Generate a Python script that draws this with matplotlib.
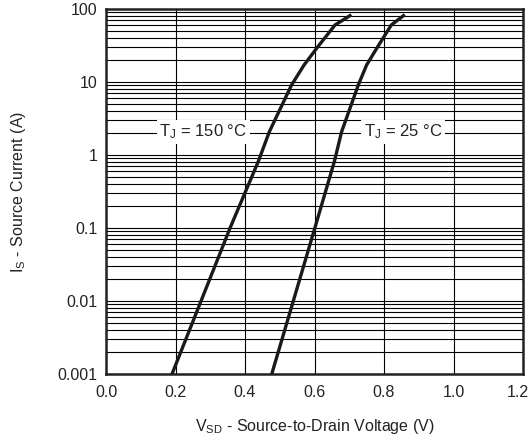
import numpy as np
import matplotlib.pyplot as plt
import matplotlib.transforms as mtransforms
from matplotlib.ticker import FixedLocator, NullFormatter

plt.rcParams['font.family'] = ['Liberation Sans', 'DejaVu Sans']
plt.rcParams['mathtext.fontset'] = 'custom'
plt.rcParams['mathtext.rm'] = 'Liberation Sans'
plt.rcParams['mathtext.it'] = 'Liberation Sans'

# --- datos ---
i_s = [0.001, 0.1, 0.81, 2.08, 9.1, 17.1, 28.9, 60.4, 81.0]
vsd_150 = [0.19, 0.357, 0.438, 0.47, 0.534, 0.57, 0.606, 0.659, 0.702]
vsd_25 = [0.477, 0.601, 0.657, 0.678, 0.726, 0.75, 0.779, 0.821, 0.856]

y_ticks = [0.001, 0.01, 0.1, 1, 10, 100]
y_labels = ["0.001", "0.01", "0.1", "1", "10", "100"]
x_ticks = [0.0, 0.2, 0.4, 0.6, 0.8, 1.0, 1.2]

fig = plt.figure(figsize=(5.3, 4.43), dpi=100)
ax = fig.add_axes([106 / 530, 1 - 374 / 443, 417 / 530, 365 / 443])

ax.set_yscale('log')
ax.set_xlim(0, 1.2)
ax.set_ylim(0.001, 100)

# rejilla
minors = [m * 10.0 ** d for d in range(-3, 2) for m in range(2, 10)]
ax.yaxis.set_minor_locator(FixedLocator(minors))
ax.yaxis.set_minor_formatter(NullFormatter())
ax.set_yticks(y_ticks)
ax.set_yticklabels(y_labels)
ax.set_xticks(x_ticks)
ax.set_xticklabels([f"{v:.1f}" for v in x_ticks])
ax.grid(True, which='both', axis='y', color='black', lw=0.8)
ax.grid(True, which='major', axis='x', color='black', lw=0.8)
ax.tick_params(which='both', length=0, labelsize=11.5, colors='#222222')
ax.tick_params(axis='x', pad=8)
ax.tick_params(axis='y', pad=6)

# el último rótulo "1.2" queda pegado al borde: se corre un poco a la izquierda
last = ax.get_xticklabels()[-1]
last.set_transform(last.get_transform() +
                   mtransforms.ScaledTranslation(-5 / 100, 0, fig.dpi_scale_trans))

for s in ax.spines.values():
    s.set_linewidth(1.8)
    s.set_color('#222222')

ax.plot(vsd_150, i_s, color='#1a1a1a', lw=2.4, zorder=3, solid_joinstyle='round')
ax.plot(vsd_25, i_s, color='#1a1a1a', lw=2.4, zorder=3, solid_joinstyle='round')

bbox = dict(facecolor='white', edgecolor='none', pad=2)
ax.text(0.28, 2.07, r"T$_\mathrm{J}$ = 150 °C", ha='center', va='center',
        fontsize=12, color='#222222', bbox=bbox, zorder=4)
ax.text(0.855, 2.07, r"T$_\mathrm{J}$ = 25 °C", ha='center', va='center',
        fontsize=12, color='#222222', bbox=bbox, zorder=4)

ax.set_xlabel(r"V$_\mathrm{SD}$ - Source-to-Drain Voltage (V)", fontsize=11.5,
              color='#222222', labelpad=12)
ax.set_ylabel(r"I$_\mathrm{S}$ - Source Current (A)", fontsize=11.5,
              color='#222222', labelpad=21)

fig.savefig("out.png", dpi=100)
